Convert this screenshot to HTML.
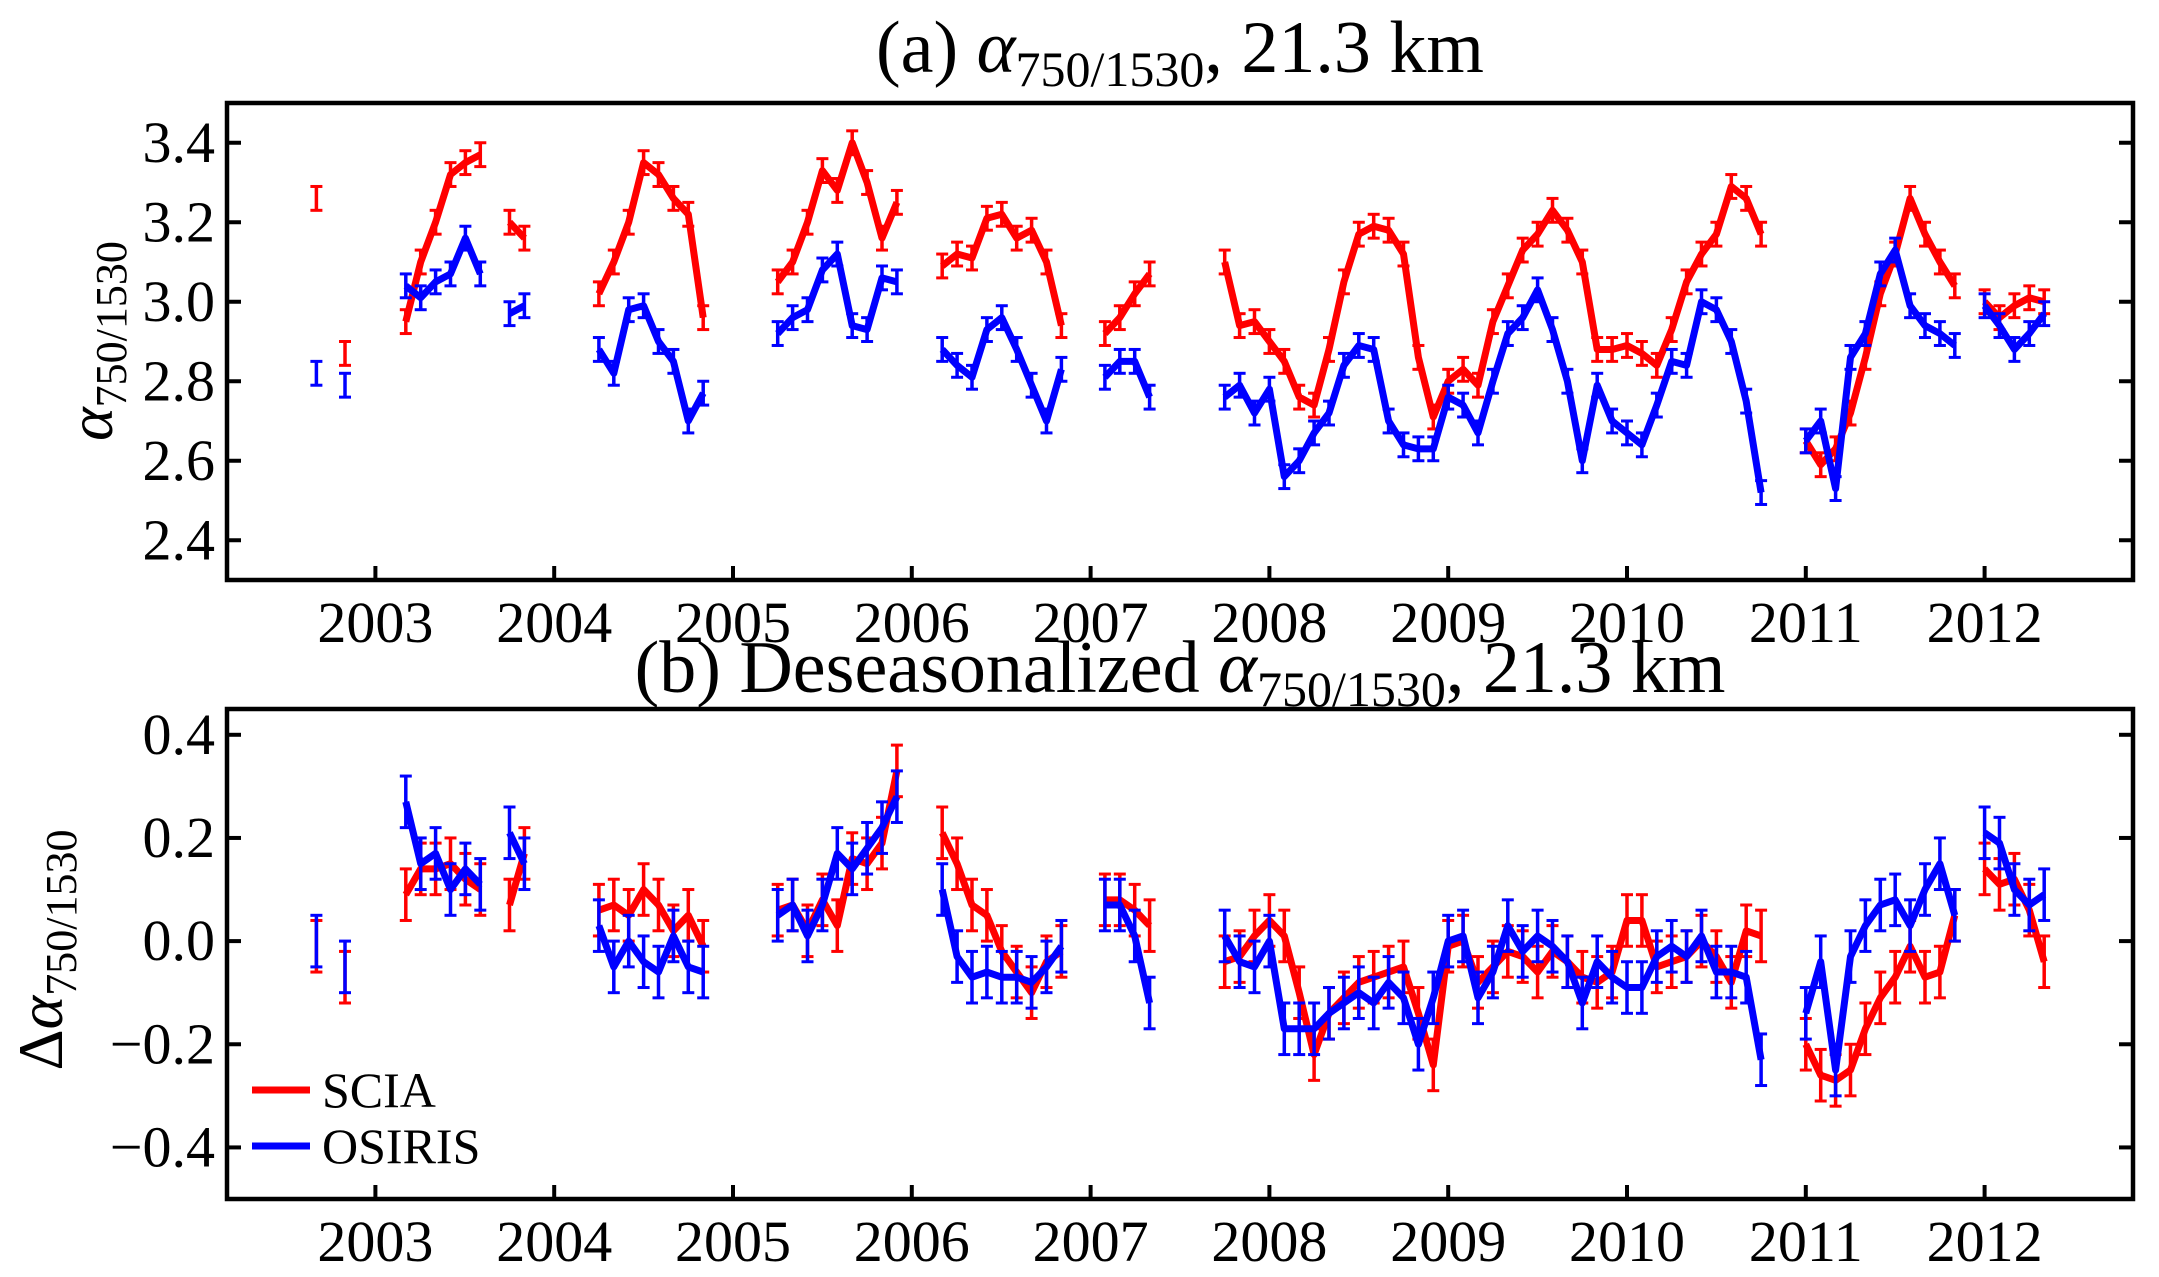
<!DOCTYPE html>
<html><head><meta charset="utf-8"><style>
html,body{margin:0;padding:0;background:#fff;}
svg{display:block;font-family:"Liberation Serif",serif;}
</style></head><body>
<svg id="chart" width="2159" height="1277" viewBox="0 0 2159 1277" xmlns="http://www.w3.org/2000/svg"></svg>
<script>
// ---- data (segments: start decimal year, monthly values) ----
const sciaTopStarts = [2002.67, 2002.83, 2003.17, 2003.75, 2004.25, 2005.25, 2006.17, 2007.08, 2007.75, 2011.0, 2012.0];
const sciaTopValues = [
 [3.26],[2.87],
 [2.95,3.10,3.20,3.32,3.35,3.37],
 [3.20,3.16],
 [3.02,3.10,3.20,3.35,3.32,3.26,3.22,2.96],
 [3.05,3.10,3.20,3.33,3.28,3.40,3.30,3.16,3.25],
 [3.09,3.12,3.11,3.21,3.22,3.16,3.18,3.10,2.94],
 [2.92,2.96,3.02,3.07],
 [3.10,2.94,2.95, 2.90,2.85,2.76,2.74,2.88,3.05,3.17,3.19,3.18,3.12,2.86,2.71,
  2.80,2.83,2.79,2.95,3.04,3.13,3.17,3.23,3.18,3.10,2.88,2.88,
  2.89,2.87,2.84,2.93,3.05,3.12,3.17,3.29,3.26,3.17],
 [2.65,2.59,2.63,2.72,2.86,3.02,3.12,3.26,3.17,3.10,3.04],
 [3.00,2.96,2.99,3.01,3.00]
];
const osirisTopStarts = [2002.67, 2002.83, 2003.17, 2003.75, 2004.25, 2005.25, 2006.17, 2007.08, 2007.75, 2011.0, 2012.0];
const osirisTopValues = [
 [2.82],[2.79],
 [3.04,3.01,3.05,3.07,3.16,3.07],
 [2.97,2.99],
 [2.88,2.82,2.98,2.99,2.90,2.85,2.70,2.77],
 [2.92,2.96,2.98,3.08,3.12,2.94,2.93,3.06,3.05],
 [2.88,2.84,2.81,2.93,2.96,2.88,2.79,2.70,2.83],
 [2.81,2.85,2.85,2.76],
 [2.76,2.79,2.72, 2.78,2.56,2.60,2.67,2.72,2.84,2.89,2.88,2.70,2.64,2.63,2.63,
  2.76,2.74,2.67,2.80,2.92,2.96,3.03,2.93,2.80,2.60,2.79,2.70,
  2.67,2.64,2.74,2.85,2.84,3.00,2.98,2.90,2.75,2.52],
 [2.65,2.70,2.53,2.86,2.92,3.07,3.13,2.99,2.94,2.92,2.89],
 [2.99,2.94,2.88,2.92,2.97]
];
const sciaBotStarts = sciaTopStarts;
const sciaBotValues = [
 [-0.01],[-0.07],
 [0.09,0.14,0.14,0.15,0.12,0.10],
 [0.07,0.17],
 [0.06,0.07,0.05,0.10,0.07,0.02,0.05,-0.01],
 [0.06,0.07,0.02,0.08,0.03,0.16,0.15,0.19,0.33],
 [0.21,0.15,0.07,0.05,-0.02,-0.06,-0.10,-0.04,-0.02],
 [0.08,0.08,0.06,0.03],
 [-0.04,-0.03,0.01, 0.04,0.01,-0.10,-0.22,-0.14,-0.11,-0.08,-0.07,-0.06,-0.05,-0.14,-0.24,
  -0.01,0.00,-0.08,-0.05,-0.02,-0.03,-0.06,-0.02,-0.04,-0.07,-0.08,-0.06,
  0.04,0.04,-0.05,-0.04,-0.03,0.00,-0.03,-0.08,0.02,0.01],
 [-0.20,-0.26,-0.27,-0.25,-0.17,-0.11,-0.07,-0.01,-0.07,-0.06,0.05],
 [0.14,0.11,0.12,0.06,-0.04]
];
const osirisBotStarts = osirisTopStarts;
const osirisBotValues = [
 [0.00],[-0.05],
 [0.27,0.15,0.17,0.10,0.14,0.11],
 [0.21,0.15],
 [0.03,-0.05,0.00,-0.04,-0.06,0.01,-0.05,-0.06],
 [0.05,0.07,0.01,0.07,0.17,0.14,0.18,0.22,0.28],
 [0.10,-0.03,-0.07,-0.06,-0.07,-0.07,-0.08,-0.05,-0.01],
 [0.07,0.07,0.01,-0.12],
 [0.01,-0.04,-0.05, 0.00,-0.17,-0.17,-0.17,-0.14,-0.12,-0.10,-0.12,-0.08,-0.11,-0.20,-0.11,
  0.00,0.01,-0.11,-0.06,0.03,-0.02,0.01,-0.01,-0.04,-0.12,-0.04,-0.07,
  -0.09,-0.09,-0.03,-0.01,-0.03,0.01,-0.06,-0.06,-0.07,-0.23],
 [-0.14,-0.04,-0.25,-0.03,0.03,0.07,0.08,0.03,0.10,0.15,0.05],
 [0.21,0.19,0.10,0.07,0.09]
];
const xTicks = [2003,2004,2005,2006,2007,2008,2009,2010,2011,2012];
const topYTicks = [2.4,2.6,2.8,3.0,3.2,3.4];
const botYTicks = [-0.4,-0.2,0.0,0.2,0.4];
const botYTickLabels = ["\u22120.4","\u22120.2","0.0","0.2","0.4"];
const topErr = 0.03, botErr = 0.05;

const NS="http://www.w3.org/2000/svg";
const svg=document.getElementById('chart');
function mk(tag,attrs,parent){const e=document.createElementNS(NS,tag);for(const k in attrs)e.setAttribute(k,attrs[k]);(parent||svg).appendChild(e);return e;}
const L=227,R=2133;
const xMin=2002.17,xMax=2012.83;
const xs=t=>L+(t-xMin)/(xMax-xMin)*(R-L);

function panel(name,top,bot,yMin,yMax,yTicks,yLabels,series,err){
  const g=mk('g',{});
  
  
  const ys=v=>bot-(v-yMin)/(yMax-yMin)*(bot-top);
  yTicks.forEach((v,i)=>{
    const y=ys(v);
    const t1=mk('line',{x1:L,x2:L+14,y1:y,y2:y,stroke:'#000','stroke-width':4},g);
    
    
    mk('line',{x1:R-14,x2:R,y1:y,y2:y,stroke:'#000','stroke-width':4},g);
    const tx=mk('text',{x:L-12,y:y+19,'text-anchor':'end','font-size':58},g);
    tx.textContent=yLabels[i];
    
    
  });
  xTicks.forEach(v=>{
    const x=xs(v);
    mk('line',{x1:x,x2:x,y1:bot-14,y2:bot,stroke:'#000','stroke-width':4},g);
    const tx=mk('text',{x:x,y:bot+62,'text-anchor':'middle','font-size':58},g);
    tx.textContent=v;
    
    
  });
  series.forEach(s=>{
    const sg=mk('g',{},g);
    
    
    s.starts.forEach((st,k)=>{
      const vals=s.values[k];
      const pts=vals.map((v,i)=>[xs(st+i/12),ys(v)]);
      pts.forEach((p,i)=>{
        const v=vals[i];
        const y1=ys(v+err),y2=ys(v-err);
        mk('line',{x1:p[0],x2:p[0],y1:y1,y2:y2,stroke:s.color,'stroke-width':3.5},sg);
        mk('line',{x1:p[0]-6,x2:p[0]+6,y1:y1,y2:y1,stroke:s.color,'stroke-width':3},sg);
        mk('line',{x1:p[0]-6,x2:p[0]+6,y1:y2,y2:y2,stroke:s.color,'stroke-width':3},sg);
      });
      if(pts.length>1){
        const pl=mk('polyline',{points:pts.map(p=>p.join(',')).join(' '),fill:'none',stroke:s.color,'stroke-width':7,'stroke-linejoin':'round'},sg);
        
        
      }
    });
  });
  const fr=mk('rect',{x:L,y:top,width:R-L,height:bot-top,fill:'none',stroke:'#000','stroke-width':4.5},g);
  
  
}
panel('panel-a',103,580,2.3,3.5,topYTicks,topYTicks.map(v=>v.toFixed(1)),
  [{name:'scia-series',color:'#ff0000',starts:sciaTopStarts,values:sciaTopValues},
   {name:'osiris-series',color:'#0000ff',starts:osirisTopStarts,values:osirisTopValues}],topErr);
panel('panel-b',709,1199,-0.5,0.45,botYTicks,botYTickLabels,
  [{name:'scia-series',color:'#ff0000',starts:sciaBotStarts,values:sciaBotValues},
   {name:'osiris-series',color:'#0000ff',starts:osirisBotStarts,values:osirisBotValues}],botErr);
</script>
<svg style="position:absolute;left:0;top:0" width="2159" height="1277" xmlns="http://www.w3.org/2000/svg">
  <text x="1180" y="72" text-anchor="middle" font-size="74" font-family="Liberation Serif,serif">(a) <tspan font-style="italic">α</tspan><tspan font-size="50" dy="14">750/1530</tspan><tspan dy="-14">, 21.3 km</tspan></text>
  <text x="1180" y="692" text-anchor="middle" font-size="74" font-family="Liberation Serif,serif">(b) Deseasonalized <tspan font-style="italic">α</tspan><tspan font-size="50" dy="14">750/1530</tspan><tspan dy="-14">, 21.3 km</tspan></text>
  <text transform="translate(112,341) rotate(-90)" text-anchor="middle" font-size="64" font-family="Liberation Serif,serif"><tspan font-style="italic">α</tspan><tspan font-size="44" dy="14">750/1530</tspan></text>
  <text transform="translate(62,950) rotate(-90)" text-anchor="middle" font-size="64" font-family="Liberation Serif,serif">Δ<tspan font-style="italic">α</tspan><tspan font-size="44" dy="14">750/1530</tspan></text>
  <g font-family="Liberation Serif,serif" font-size="50">
    <line x1="252" x2="310" y1="1090" y2="1090" stroke="#ff0000" stroke-width="7"/>
    <text x="322" y="1107">SCIA</text>
    <line x1="252" x2="310" y1="1146" y2="1146" stroke="#0000ff" stroke-width="7"/>
    <text x="322" y="1163">OSIRIS</text>
  </g>
</svg>
</body></html>
